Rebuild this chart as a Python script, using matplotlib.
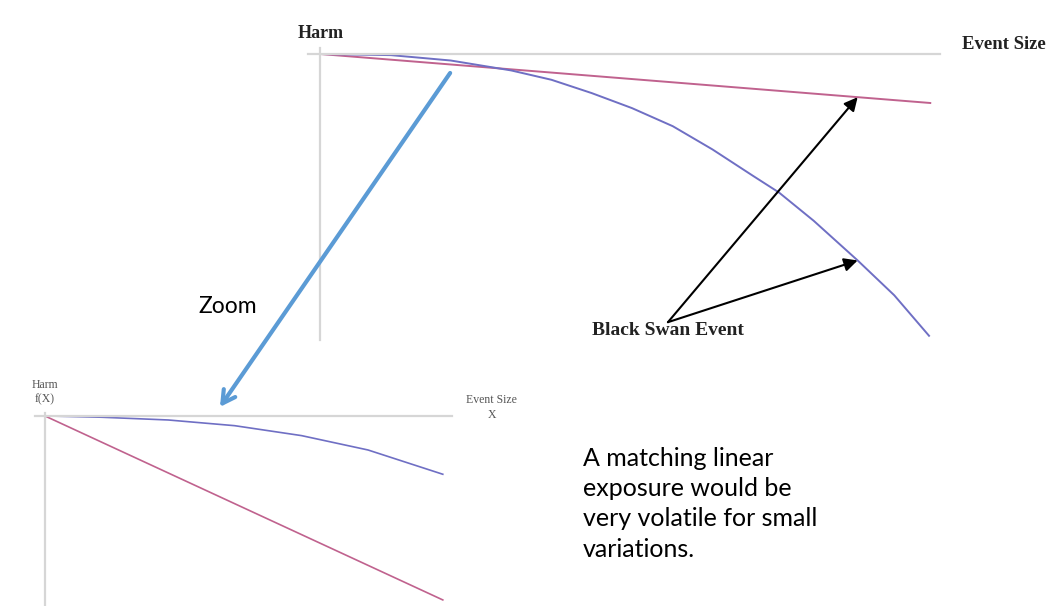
import matplotlib.pyplot as plt

# ---------------- data ----------------
# top panel: large event sizes
top_x          = [0, 1.16, 2.14, 3.13, 3.79, 4.45, 5.11, 5.78, 6.43, 7.10, 7.52, 8.09, 8.81, 9.41, 9.98]
top_convex     = [0, -0.04, -0.23, -0.58, -0.91, -1.38, -1.91, -2.55, -3.37, -4.31, -4.89, -5.89, -7.29, -8.52, -9.95]
top_lin_x      = [0, 10.0]
top_linear     = [0, -1.73]

# bottom panel: zoomed in on small event sizes
bot_x          = [0, 1.42, 3.10, 4.77, 6.45, 8.12, 10.0]
bot_convex     = [0, -0.07, -0.22, -0.53, -1.07, -1.85, -3.17]
bot_lin_x      = [0, 10.0]
bot_linear     = [0, -10.0]

swan_x         = 8.81         # where the "Black Swan Event" arrows point
swan_from      = (5.7, -9.47)

blue  = '#6f6fc4'
pink  = '#c0628e'
axis_grey = '#d6d6d6'
serif = 'Liberation Serif'

fig = plt.figure(figsize=(10.53, 6.06), dpi=100)

def bare_axes(ax):
    for s in ['top', 'right']:
        ax.spines[s].set_visible(False)
    for s in ['left', 'bottom']:
        ax.spines[s].set_position(('data', 0))
        ax.spines[s].set_color(axis_grey)
        ax.spines[s].set_linewidth(1.6)
    ax.set_xticks([])
    ax.set_yticks([])
    ax.patch.set_alpha(0)

########################### top panel ###########################
ax1 = fig.add_axes([0.2925, 0.4389, 0.6002, 0.4818])
bare_axes(ax1)
ax1.set_xlim(-0.2, 10.16)
ax1.set_ylim(-10.1, 0.21)
ax1.plot(top_lin_x, top_linear, color=pink, lw=1.4)
ax1.plot(top_x, top_convex, color=blue, lw=1.4, solid_joinstyle='round')

ax1.text(0, 0.74, 'Harm', family=serif, fontweight='bold', fontsize=13,
         color='#222222', ha='center', va='center', clip_on=False)
ax1.text(11.2, 0.35, 'Event Size', family=serif, fontweight='bold', fontsize=13.5,
         color='#222222', ha='center', va='center', clip_on=False)

pink_at_swan = top_linear[0] + (top_linear[1] - top_linear[0]) * swan_x / top_lin_x[1]
blue_at_swan = top_convex[12]
for target in [(swan_x, pink_at_swan), (swan_x, blue_at_swan)]:
    ax1.annotate('', xy=target, xytext=swan_from,
                 arrowprops=dict(arrowstyle='-|>', color='black', lw=1.5,
                                 mutation_scale=20, shrinkA=0, shrinkB=0))
ax1.text(swan_from[0], -9.75, 'Black Swan Event', family=serif, fontweight='bold',
         fontsize=14, color='#222222', ha='center', va='center', clip_on=False)

########################### bottom panel ###########################
ax2 = fig.add_axes([0.0332, 0.0, 0.396, 0.3185])
bare_axes(ax2)
ax2.set_xlim(-0.25, 10.23)
ax2.set_ylim(-10.33, 0.16)
ax2.plot(bot_lin_x, bot_linear, color=pink, lw=1.2)
ax2.plot(bot_x, bot_convex, color=blue, lw=1.2, solid_joinstyle='round')

ax2.text(0, 1.3, 'Harm\nf(X)', family=serif, fontsize=8.5, color='#555555',
         ha='center', va='center', linespacing=1.3, clip_on=False)
ax2.text(11.23, 0.45, 'Event Size\nX', family=serif, fontsize=8.5, color='#555555',
         ha='center', va='center', linespacing=1.3, clip_on=False)

# zoom arrow from the top panel down to the bottom one
ax2.annotate('', xy=(4.4, 0.49), xytext=(2.13, -0.67), textcoords=ax1.transData,
             annotation_clip=False,
             arrowprops=dict(arrowstyle='->,head_length=0.9,head_width=0.5',
                             color='#5b9bd5', lw=3, shrinkA=0, shrinkB=0))

fig.text(0.2165, 0.4934, 'Zoom', family='Lato', fontsize=16.5, ha='center', va='center')
fig.text(0.5537, 1 - 447 / 606,
         'A matching linear\nexposure would be\nvery volatile for small\nvariations.',
         family='Lato', fontsize=18, ha='left', va='top', linespacing=1.38)

plt.savefig('out.png', dpi=100)
